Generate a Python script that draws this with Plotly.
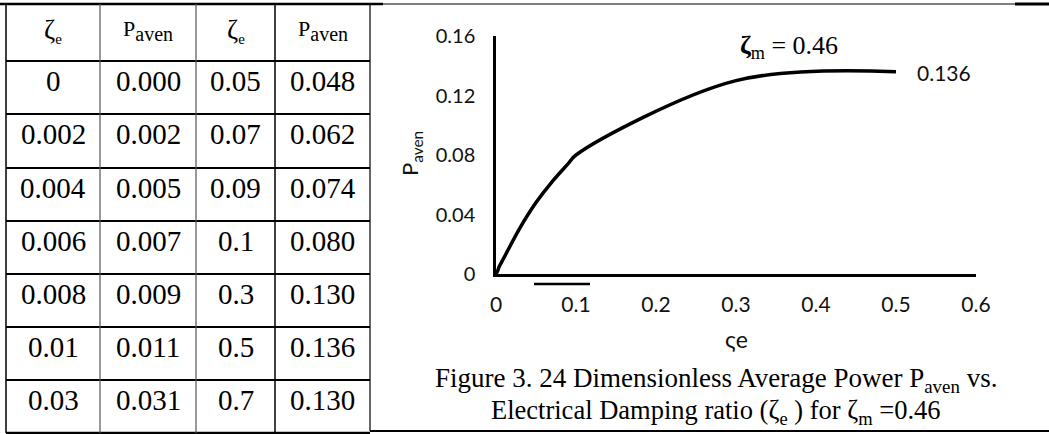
import plotly.graph_objects as go

# Table values: electrical damping ratio and dimensionless average power
zeta_left = [0, 0.002, 0.004, 0.006, 0.008, 0.01, 0.03]
p_left = [0.000, 0.002, 0.005, 0.007, 0.009, 0.011, 0.031]
zeta_right = [0.05, 0.07, 0.09, 0.1, 0.3, 0.5, 0.7]
p_right = [0.048, 0.062, 0.074, 0.080, 0.130, 0.136, 0.130]

zeta_m = 0.46
x_ticks = [0, 0.1, 0.2, 0.3, 0.4, 0.5, 0.6]
y_ticks = [0, 0.04, 0.08, 0.12, 0.16]

W, H = 1049, 434


def px(x):
    return x / W


def py(y):
    return 1 - y / H


# curve drawn over the plotted range of the x axis
zeta_all = zeta_left + zeta_right
p_all = p_left + p_right
curve_x = [z for z in zeta_all if z <= 0.5]
curve_y = [p for z, p in zip(zeta_all, p_all) if z <= 0.5]

fig = go.Figure()
fig.add_trace(go.Scatter(
    x=curve_x, y=curve_y, mode="lines",
    line=dict(color="black", width=3.5, shape="spline", smoothing=1.0),
    hoverinfo="skip", showlegend=False,
))

sans = "Lato"
serif = "Liberation Serif"
fig.update_layout(
    width=W, height=H,
    margin=dict(l=0, r=0, t=0, b=0, autoexpand=False),
    paper_bgcolor="white", plot_bgcolor="white",
    showlegend=False,
    xaxis=dict(
        domain=[px(496), px(976)], range=[0, 0.6],
        tickvals=x_ticks, ticktext=[f"{v:g}" for v in x_ticks],
        showline=True, linecolor="black", linewidth=2.5,
        showgrid=False, zeroline=False, ticks="",
        tickfont=dict(family=sans, size=21, color="#111"), ticklabelstandoff=10,
    ),
    yaxis=dict(
        domain=[py(274), py(36)], range=[0, 0.16],
        tickvals=y_ticks, ticktext=[f"{v:g}" for v in y_ticks],
        showline=True, linecolor="black", linewidth=2.5,
        showgrid=False, zeroline=False, ticks="",
        tickfont=dict(family=sans, size=20, color="#111"), ticklabelstandoff=14,
    ),
)

shapes = []
ann = []

# ---- data table on the left ----
col_edges = [6, 100, 196, 275, 370]
row_edges = [4, 61, 114, 168, 221, 274, 327, 380, 433]


def hline(x0, x1, y, w=1.5, c="black"):
    shapes.append(dict(type="line", xref="paper", yref="paper",
                       x0=px(x0), x1=px(x1), y0=py(y), y1=py(y),
                       line=dict(color=c, width=w)))


def vline(x, y0, y1, w=1.5, c="black"):
    shapes.append(dict(type="line", xref="paper", yref="paper",
                       x0=px(x), x1=px(x), y0=py(y0), y1=py(y1),
                       line=dict(color=c, width=w)))


hline(0, 383, 4, w=2.5)
for y in row_edges[1:-1]:
    hline(6, 370, y, w=1.8)
hline(6, 370, 433, w=2.5)
vline(6, 4, 433, w=1.5)
vline(100, 4, 433, w=1.2, c="#555")
vline(196, 4, 433, w=1.2, c="#555")
vline(275, 4, 433, w=1.5)
vline(370, 4, 431, w=1.2)

# figure cell border
hline(383, 1015, 4, w=1.2)
hline(1015, 1049, 4, w=3)
hline(370, 1049, 431, w=2)

col_centers = [(a + b) / 2 for a, b in zip(col_edges[:-1], col_edges[1:])]
headers = [
    "<span style='font-size:27px'>ζ</span><sub><span style='font-size:15px'>e</span></sub>",
    "P<sub><span style='font-size:20px'>aven</span></sub>",
    "<span style='font-size:27px'>ζ</span><sub><span style='font-size:15px'>e</span></sub>",
    "P<sub><span style='font-size:20px'>aven</span></sub>",
]
for cx, h in zip(col_centers, headers):
    ann.append(dict(x=px(cx), y=py(31), xref="paper", yref="paper",
                    text=h, showarrow=False, xanchor="center", yanchor="middle",
                    font=dict(family=serif, size=22, color="black")))

columns = [
    [f"{v:g}" for v in zeta_left],
    [f"{v:.3f}" for v in p_left],
    [f"{v:g}" for v in zeta_right],
    [f"{v:.3f}" for v in p_right],
]
for cx, col in zip(col_centers, columns):
    for i, txt in enumerate(col):
        cy = row_edges[i + 1] + 20
        ann.append(dict(x=px(cx), y=py(cy), xref="paper", yref="paper",
                        text=txt, showarrow=False, xanchor="center", yanchor="middle",
                        font=dict(family=serif, size=29, color="black")))

# ---- chart labels ----
ann.append(dict(x=px(411), y=py(154), xref="paper", yref="paper",
                text="P<sub>aven</sub>", textangle=-90, showarrow=False,
                xanchor="center", yanchor="middle",
                font=dict(family=sans, size=22, color="#111")))
ann.append(dict(x=px(736), y=py(339), xref="paper", yref="paper",
                text="ςe", showarrow=False, xanchor="center", yanchor="middle",
                font=dict(family=sans, size=23, color="#111")))
ann.append(dict(x=px(738), y=py(47), xref="paper", yref="paper",
                text=f"<b>ζ</b><sub>m</sub> = {zeta_m:g}", showarrow=False,
                xanchor="left", yanchor="middle",
                font=dict(family=serif, size=26, color="black")))

# value label at the end of the curve
ann.append(dict(x=curve_x[-1], y=curve_y[-1], xref="x", yref="y",
                text=f"{curve_y[-1]:.3f}", showarrow=False,
                xanchor="left", yanchor="middle", xshift=19, yshift=-1,
                font=dict(family=sans, size=21, color="#111")))

# stray rule below the x axis
hline(534, 590, 284, w=2.5)

# caption
ann.append(dict(x=px(716), y=py(380), xref="paper", yref="paper",
                text="Figure 3. 24 Dimensionless Average Power P<sub>aven</sub> vs.",
                showarrow=False, xanchor="center", yanchor="middle",
                font=dict(family=serif, size=27, color="black")))
ann.append(dict(x=px(716), y=py(412), xref="paper", yref="paper",
                text="Electrical Damping ratio (ζ<sub>e</sub> ) for ζ<sub>m</sub> =0.46",
                showarrow=False, xanchor="center", yanchor="middle",
                font=dict(family=serif, size=26.5, color="black")))

fig.update_layout(shapes=shapes, annotations=ann)
fig.write_html(
    "out.html",
    post_script="document.body.style.margin='0';document.body.style.overflow='hidden';",
)
